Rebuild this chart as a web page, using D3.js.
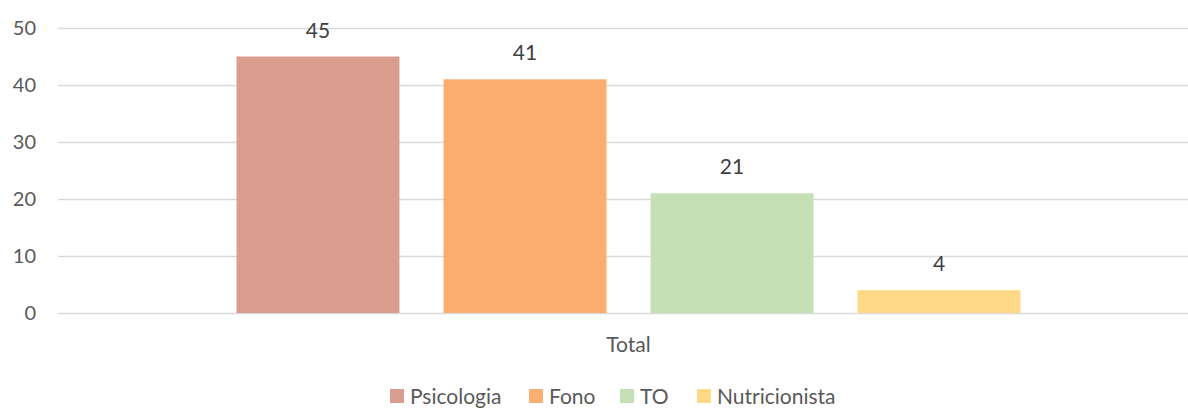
<!DOCTYPE html>
<html><head><meta charset="utf-8">
<script src="https://cdn.jsdelivr.net/npm/d3@7"></script>
<style>body{margin:0;background:#fff}svg{display:block}text{font-family:Lato,"Open Sans",sans-serif}</style>
</head><body><svg id="c" width="1188" height="408"></svg>
<script>
const categories = ["Total"];
const seriesNames = ["Psicologia", "Fono", "TO", "Nutricionista"];
const seriesValues = [45, 41, 21, 4];
const seriesColors = ["#D99D8E", "#FCAD70", "#C5E0B4", "#FFD985"];
const yTicks = [0, 10, 20, 30, 40, 50];

(function () {
const svg = d3.select("#c");
const mLeft = 58, mRight = 1199, mTop = 28, mBottom = 313;
const y = d3.scaleLinear().domain([0, 50]).range([mBottom, mTop]);
const x0 = d3.scaleBand().domain(categories).range([mLeft, mRight]).paddingInner(0).paddingOuter(0.2277);
const x1 = d3.scaleBand().domain(seriesNames).range([0, x0.bandwidth()]).paddingInner(0.213).paddingOuter(0);

const yAxis = d3.axisLeft(y).tickValues(yTicks).tickSize(-(mRight - mLeft)).tickPadding(22);
const gy = svg.append("g").attr("transform", `translate(${mLeft},0)`).call(yAxis);
gy.select(".domain").remove();
gy.selectAll(".tick line").attr("stroke", "#D9D9D9").attr("stroke-width", 1.3);
gy.selectAll(".tick text").attr("fill", "#595959").style("font-size", "20px");

const g = svg.append("g").attr("transform", `translate(${x0(categories[0])},0)`);
g.selectAll("rect").data(seriesValues).join("rect")
  .attr("x", (d, i) => x1(seriesNames[i]))
  .attr("y", d => y(d))
  .attr("width", x1.bandwidth())
  .attr("height", d => y(0) - y(d))
  .attr("fill", (d, i) => seriesColors[i]);
g.selectAll("text.lbl").data(seriesValues).join("text").attr("class", "lbl")
  .attr("x", (d, i) => x1(seriesNames[i]) + x1.bandwidth() / 2)
  .attr("y", d => y(d) - 19)
  .attr("text-anchor", "middle").attr("fill", "#404040").style("font-size", "21px")
  .text(d => d);

const xAxis = d3.axisBottom(x0).tickSize(0).tickPadding(24);
const gx = svg.append("g").attr("transform", `translate(0,${mBottom})`).call(xAxis);
gx.select(".domain").remove();
gx.selectAll(".tick text").attr("fill", "#595959").style("font-size", "21px");

const legendX = [390, 529, 620, 697];
const lg = svg.append("g");
seriesNames.forEach((n, i) => {
  lg.append("rect").attr("x", legendX[i]).attr("y", 389).attr("width", 14).attr("height", 14).attr("fill", seriesColors[i]);
  lg.append("text").attr("x", legendX[i] + 20).attr("y", 404).attr("fill", "#595959").style("font-size", "21px").text(n);
});
})();
</script></body></html>
